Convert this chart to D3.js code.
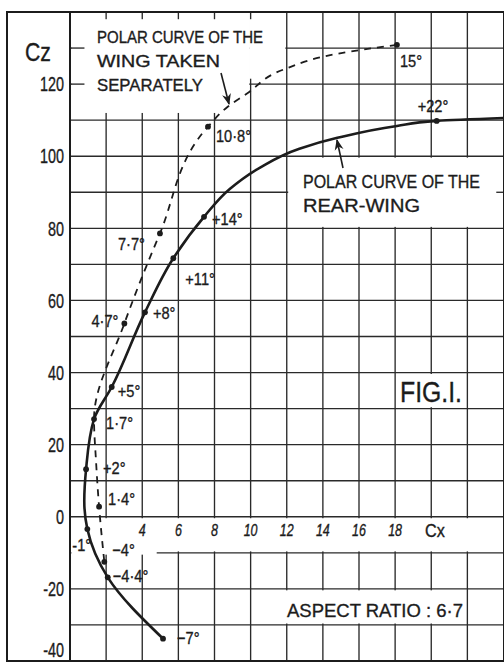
<!DOCTYPE html>
<html>
<head>
<meta charset="utf-8">
<script src="https://cdn.jsdelivr.net/npm/d3@7/dist/d3.min.js"></script>
<style>
  html, body { margin: 0; padding: 0; background: #fff; }
  svg { display: block; }
</style>
</head>
<body>
<script>
// ---- data ----
const xTicks = [4, 6, 8, 10, 12, 14, 16, 18];
const yTicks = [120, 100, 80, 60, 40, 20, 0, -20, -40];

// polar curve of the rear-wing (solid): [Cx, Cz]
const rearWingPath = [
  [5.15, -33.8], [2.09, -16.8], [0.96, -3.4], [0.79, 4.4], [0.89, 13.2],
  [1.33, 27.1], [2.31, 36.0], [4.15, 56.7], [5.72, 71.7], [7.42, 83.2],
  [8.86, 91.0], [10.5, 96.8], [12.7, 102.1], [14.8, 105.1], [18.1, 108.4],
  [20.3, 109.8], [24, 110.6]
];
const rearWingMarks = [
  { cx: 5.15, cz: -33.8, label: "−7°" },
  { cx: 2.09, cz: -16.8, label: "−4·4°" },
  { cx: 0.96, cz: -3.4, label: "-1°" },
  { cx: 0.89, cz: 13.2, label: "+2°" },
  { cx: 2.31, cz: 36.0, label: "+5°" },
  { cx: 4.15, cz: 56.7, label: "+8°" },
  { cx: 5.72, cz: 71.7, label: "+11°" },
  { cx: 7.42, cz: 83.2, label: "+14°" },
  { cx: 20.3, cz: 109.8, label: "+22°" }
];

// polar curve of the wing taken separately (dashed)
const wingPath = [
  [1.90, -12.5], [1.61, 2.8], [1.44, 15.5], [1.33, 27.1], [3.01, 53.6],
  [4.98, 78.6], [7.64, 108.2], [8.70, 113.6], [9.8, 117.4], [11.8, 124.0],
  [14.8, 128.4], [18.1, 130.9]
];
const wingMarks = [
  { cx: 1.90, cz: -12.5, label: "−4°" },
  { cx: 1.61, cz: 2.8, label: "1·4°" },
  { cx: 1.33, cz: 27.1, label: "1·7°" },
  { cx: 3.01, cz: 53.6, label: "4·7°" },
  { cx: 4.98, cz: 78.6, label: "7·7°" },
  { cx: 7.64, cz: 108.2, label: "10·8°" },
  { cx: 18.1, cz: 130.9, label: "15°" }
];

// ---- layout ----
const W = 504, H = 662;
const INK = "#1c1c1c";
const GRID = "#2a2a2a";
const FONT = '"Liberation Sans", Arial, sans-serif';

// label placement relative to its point: [dx, dy, anchor]
const labelPlace = {
  "−7°": [14, -1, "start"],
  "−4·4°": [5, -1, "start"],
  "-1°": [-15, 16, "start"],
  "+2°": [17, -1, "start"],
  "+5°": [6, 4, "start"],
  "+8°": [8, 1, "start"],
  "+11°": [12, 21, "start"],
  "+14°": [8, 2, "start"],
  "+22°": [-19, -15, "start"],
  "−4°": [8, -12, "start"],
  "1·4°": [9, -8, "start"],
  "1·7°": [12, 4, "start"],
  "4·7°": [-6, -3, "end"],
  "7·7°": [-15, 10, "end"],
  "10·8°": [8, 9, "start"],
  "15°": [3, 16, "start"]
};

const x = d3.scaleLinear().domain([0, 24]).range([70, 503.5]);
const y = d3.scaleLinear().domain([-40, 140]).range([661, 12]);

const svg = d3.select("body").append("svg")
  .attr("width", W)
  .attr("height", H)
  .style("font-family", FONT);

svg.append("rect").attr("width", W).attr("height", H).attr("fill", "#fff");

const defs = svg.append("defs");
defs.append("marker")
  .attr("id", "arr")
  .attr("viewBox", "0 0 10 10")
  .attr("refX", 9).attr("refY", 5)
  .attr("markerWidth", 7).attr("markerHeight", 7)
  .attr("orient", "auto")
  .append("path")
  .attr("d", "M0,1 L10,5 L0,9 L3,5 Z")
  .attr("fill", INK);

// Grid
const grid = svg.append("g").attr("stroke", GRID).attr("stroke-width", 1.35);
grid.selectAll("line.v")
  .data(d3.range(2, 24, 2))
  .join("line")
  .attr("x1", (d) => x(d)).attr("x2", (d) => x(d))
  .attr("y1", y(140)).attr("y2", y(-40));
grid.selectAll("line.h")
  .data(d3.range(-30, 140, 10))
  .join("line")
  .attr("x1", x(0)).attr("x2", x(24))
  .attr("y1", (d) => y(d)).attr("y2", (d) => y(d));

// White panels where the original sheet carries lettering
const blank = (x0, x1, z0, z1) =>
  svg.append("rect")
    .attr("x", x(x0)).attr("y", y(z1))
    .attr("width", x(x1) - x(x0)).attr("height", y(z0) - y(z1))
    .attr("fill", "#fff");
blank(0.08, 9.92, 112, 138);
blank(9.92, 11.92, 121.5, 138);
blank(12.08, 24.2, 80.4, 99.6);
blank(18.08, 21.92, 30.4, 39.6);
blank(10.08, 21.92, -29.6, -20.4);
blank(0.08, 24.2, -9.6, -0.4);
blank(0.08, 4.8, -10.5, -9.5);

// short ticks that survive inside the blank panels
svg.append("g").attr("stroke", GRID).attr("stroke-width", 1.35)
  .selectAll("line")
  .data([120, 130])
  .join("line")
  .attr("x1", x(0)).attr("x2", x(0.8))
  .attr("y1", (d) => y(d)).attr("y2", (d) => y(d));
svg.append("line")
  .attr("x1", x(23.6)).attr("x2", x(24))
  .attr("y1", y(90)).attr("y2", y(90))
  .attr("stroke", GRID).attr("stroke-width", 1.35);

// Frame and axis
svg.append("rect")
  .attr("x", 7).attr("y", y(140))
  .attr("width", W - 7).attr("height", y(-40) - y(140))
  .attr("fill", "none").attr("stroke", INK).attr("stroke-width", 2);
svg.append("line")
  .attr("x1", x(0)).attr("x2", x(0))
  .attr("y1", y(140)).attr("y2", y(-40))
  .attr("stroke", INK).attr("stroke-width", 2);

// condensed, slightly heavy lettering helper (hand-lettered look)
function txt(px, py, s, o = {}) {
  const t = svg.append("text")
    .attr("transform", `translate(${px},${py}) scale(${o.sx ?? 1},1)`)
    .attr("text-anchor", o.anchor ?? "start")
    .attr("font-size", o.size ?? 16)
    .attr("fill", INK)
    .attr("stroke", INK)
    .attr("stroke-width", 0.35)
    .attr("dy", o.dy ?? "0.36em")
    .text(s);
  if (o.italic) t.attr("font-style", "italic");
  if (o.len) t.attr("textLength", o.len).attr("lengthAdjust", "spacingAndGlyphs");
  return t;
}

// Y tick labels (the lowest one sits just above the bottom edge)
yTicks.forEach((v) =>
  txt(64, Math.min(y(v), 650), v, { anchor: "end", size: 20, sx: 0.72 }));
const cz = txt(25, 52, "C", { size: 25, sx: 0.85 });
cz.append("tspan").text("z");

// X tick labels
xTicks.forEach((v) => txt(x(v), 530, v, { anchor: "middle", size: 16, sx: 0.78, italic: true }));
const cxl = txt(425, 531, "C", { size: 18, sx: 0.9 });
cxl.append("tspan").text("x");

// Curves (drawn top-down so the monotone fit follows Cz)
const line = d3.line()
  .x((d) => x(d[0]))
  .y((d) => y(d[1]))
  .curve(d3.curveMonotoneY);

svg.append("path")
  .datum(wingPath.slice().reverse())
  .attr("d", line)
  .attr("fill", "none")
  .attr("stroke", INK)
  .attr("stroke-width", 1.8)
  .attr("stroke-dasharray", "7,6");

svg.append("path")
  .datum(rearWingPath.slice().reverse())
  .attr("d", line)
  .attr("fill", "none")
  .attr("stroke", INK)
  .attr("stroke-width", 2.6);

// Points and angle labels
const marks = rearWingMarks.concat(wingMarks);
svg.append("g")
  .selectAll("circle")
  .data(marks)
  .join("circle")
  .attr("cx", (d) => x(d.cx))
  .attr("cy", (d) => y(d.cz))
  .attr("r", 2.9)
  .attr("fill", INK);

marks.forEach((d) => {
  const [dx, dy, anchor] = labelPlace[d.label];
  txt(x(d.cx) + dx, y(d.cz) + dy, d.label, { size: 17, sx: 0.86, anchor });
});

// Annotations
txt(97, 43, "POLAR CURVE OF THE", { size: 16, len: 166, dy: 0 });
txt(97, 67, "WING TAKEN", { size: 17, len: 123, dy: 0 });
txt(97, 91, "SEPARATELY", { size: 17, len: 106, dy: 0 });
txt(303, 188, "POLAR CURVE OF THE", { size: 18, len: 177, dy: 0 });
txt(303, 212, "REAR-WING", { size: 19, len: 117, dy: 0 });
txt(400, 402, "FIG.I.", { size: 29, len: 62, dy: 0 });
txt(287, 617, "ASPECT RATIO : 6·7", { size: 19, len: 176, dy: 0 });

svg.append("line")
  .attr("x1", 221).attr("y1", 73)
  .attr("x2", 229).attr("y2", 104)
  .attr("stroke", INK).attr("stroke-width", 1.6)
  .attr("marker-end", "url(#arr)");
svg.append("line")
  .attr("x1", 343).attr("y1", 168)
  .attr("x2", 337).attr("y2", 140)
  .attr("stroke", INK).attr("stroke-width", 1.6)
  .attr("marker-end", "url(#arr)");
</script>
</body>
</html>
